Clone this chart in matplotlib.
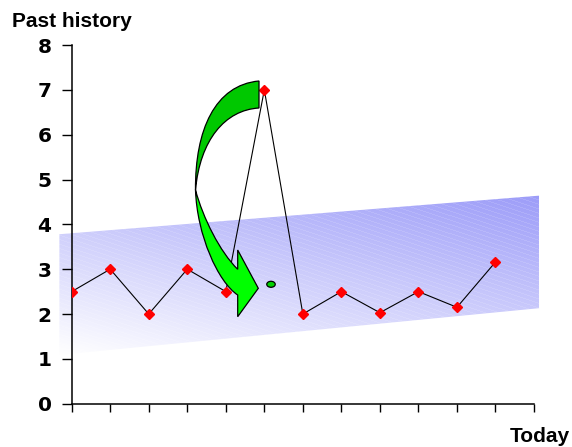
"""Past history chart: zig-zag series in a rising blue channel, with a curved arrow."""
import numpy as np
import matplotlib
matplotlib.use("Agg")
import matplotlib.pyplot as plt
from matplotlib.path import Path
from matplotlib.patches import PathPatch, Polygon, Ellipse

plt.rcParams["font.family"] = ["Liberation Sans", "DejaVu Sans"]
plt.rcParams["font.weight"] = "bold"

# data
periods = list(range(12))
values = [2.5, 3.0, 2.0, 3.0, 2.5, 7.0, 2.0, 2.5, 2.03, 2.5, 2.15, 3.16]
y_ticks = [0, 1, 2, 3, 4, 5, 6, 7, 8]
x_ticks = list(range(13))
# trend channel corners (x, y) in data units
channel_x = [-0.32, 12.13, 12.13, -0.32]
channel_y = [3.78, 4.64, 2.13, 1.09]

W, H = 572, 447
fig = plt.figure(figsize=(W / 100, H / 100), dpi=100)

ax = fig.add_axes([71.7 / W, 1 - 403.7 / H, (534 - 71.7) / W, (403.7 - 45) / H], zorder=1)
ax.patch.set_visible(False)
ax.set_xlim(0, 12)
ax.set_ylim(0, 8)
ax.set_yticks(y_ticks)
ax.set_xticks(x_ticks)
ax.set_xticklabels([])
ax.tick_params(axis="y", length=7, width=1, pad=7.5)
ax.tick_params(axis="x", length=6, width=1)
for lab in ax.get_yticklabels():
    lab.set_fontfamily("DejaVu Sans")
    lab.set_fontsize(14.5)
    lab.set_fontweight("bold")
for s in ("top", "right"):
    ax.spines[s].set_visible(False)
for s in ("left", "bottom"):
    ax.spines[s].set_linewidth(1.1)
ax.plot(periods, values, color="black", lw=0.8, marker="D", ms=4.8,
        mfc="red", mec="red", zorder=3)

# background layer in figure pixels (y down) for the gradient channel
bg = fig.add_axes([0, 0, 1, 1], zorder=0)
bg.set_xlim(0, W)
bg.set_ylim(H, 0)
bg.axis("off")
pts = ax.transData.transform(np.column_stack([channel_x, channel_y]))
pts[:, 1] = H - pts[:, 1]
band = Polygon(pts, closed=True, facecolor="none", edgecolor="none")
bg.add_patch(band)

gx, gy = np.meshgrid(np.arange(W) + 0.5, np.arange(H) + 0.5)
t = 0.00073 * (gx - 60) + 0.0037 * (355 - gy)
t = np.clip(t, 0, 1)
blue = np.array([150, 150, 248]) / 255
img = (1 - t[..., None]) * 1.0 + t[..., None] * blue
# faint diagonal stripes
stripe = ((gx * 0.33 - gy) % 4.5) < 1.0
img[stripe] = img[stripe] * 0.88 + 0.12
im = bg.imshow(img, extent=(0, W, H, 0), origin="upper", interpolation="nearest")
im.set_clip_path(band)

# overlay layer for the curved arrow
ov = fig.add_axes([0, 0, 1, 1], zorder=3)
ov.set_xlim(0, W)
ov.set_ylim(H, 0)
ov.axis("off")

C4 = Path.CURVE4
back = Path(
    [(259, 81), (215, 85), (195, 130), (195.5, 190),
     (200, 140), (225, 110), (259, 108), (259, 81)],
    [Path.MOVETO, C4, C4, C4, C4, C4, C4, Path.CLOSEPOLY])
ov.add_patch(PathPatch(back, facecolor="#00c800", edgecolor="black", lw=0.9))

front = Path(
    [(195.5, 190), (203, 218), (220, 252), (237.7, 269.3),
     (237.7, 250), (258.3, 288.3), (237.7, 316.7), (237.7, 295),
     (218, 282), (197, 235), (195.5, 190), (195.5, 190)],
    [Path.MOVETO, C4, C4, C4, Path.LINETO, Path.LINETO, Path.LINETO,
     Path.LINETO, C4, C4, C4, Path.CLOSEPOLY])
ov.add_patch(PathPatch(front, facecolor="#00ff00", edgecolor="black", lw=0.9))

ov.add_patch(Ellipse((271, 284.3), 8.5, 6, facecolor="#00d000",
                     edgecolor="black", lw=0.9))

fig.text(12 / W, 1 - 26.7 / H, "Past history", fontsize=15, fontweight="bold",
         ha="left", va="baseline")
fig.text(570 / W, 1 - 441.7 / H, "Today", fontsize=15, fontweight="bold",
         ha="right", va="baseline")

fig.savefig("out.png", dpi=100)
